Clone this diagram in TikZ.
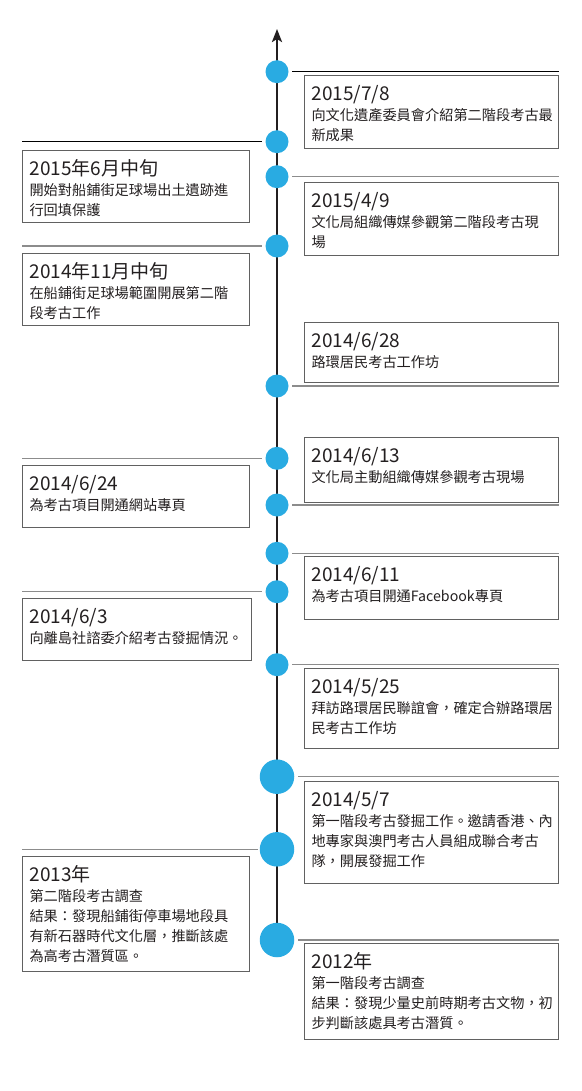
\documentclass[tikz,border=0pt]{standalone}
\usepackage{fontspec}
\setmainfont{Noto Sans CJK TC}
\usepackage{xcolor}
\usepackage{tikz}
\usetikzlibrary{arrows.meta}
\definecolor{dotblue}{HTML}{29ABE2}
\definecolor{axisdark}{HTML}{231F20}
\newcommand{\datesize}{\fontsize{19}{20}\selectfont}
\tikzset{
  eventbox/.style={draw=black!62,line width=1pt,anchor=north west,align=left,
    inner xsep=7pt,inner ysep=0pt,text height=25pt,text=axisdark,
    font=\fontsize{14.2}{20}\selectfont},
  rightbox/.style={eventbox,text width=240pt},
  leftbox/.style={eventbox,text width=213pt},
  smalldot/.style={circle,fill=dotblue,inner sep=0pt,minimum size=23pt},
  bigdot/.style={circle,fill=dotblue,inner sep=0pt,minimum size=34.5pt}
}

\begin{document}
\begin{tikzpicture}[x=1pt,y=-1pt]
  \tikzset{axisline/.style={-{Stealth[length=13pt,width=10pt,inset=3pt]},line width=2.8pt,draw=axisdark},
    blackline/.style={draw=black,line width=0.9pt},
    grayline/.style={draw=black!45,line width=1.4pt}}
  \useasboundingbox (0,0) rectangle (581,1091);
  \coordinate (axisbot) at (277,940);
  \coordinate (axistop) at (277,29);
  \draw[axisline] (axisbot) -- (axistop);
  % points on the time axis
  \node[smalldot] (jul8p) at (277,71.7) {};
  \node[smalldot] (jun15p) at (277,141.7) {};
  \node[smalldot] (apr9p) at (277,176.7) {};
  \node[smalldot] (nov14p) at (277,246) {};
  \node[smalldot] (jun28p) at (277,386) {};
  \node[smalldot] (jun24p) at (277,458.3) {};
  \node[smalldot] (jun13p) at (277,505) {};
  \node[smalldot] (jun11p) at (277,553.3) {};
  \node[smalldot] (jun3p) at (277,591.7) {};
  \node[smalldot] (may25p) at (277,664.7) {};
  \node[bigdot] (may7p) at (277,776.7) {};
  \node[bigdot] (y2013p) at (277,849.3) {};
  \node[bigdot] (y2012p) at (277,940) {};
  % event boxes
  \node[rightbox,text depth=47.7pt] (jul8) at (304,75) {{\datesize 2015/7/8}\\
    向文化遺產委員會介紹第二階段考古最\\新成果};
  \node[leftbox,text depth=47.3pt] (jun15) at (22,150) {{\datesize 2015年6月中旬}\\
    開始對船鋪街足球場出土遺跡進\\行回填保護};
  \node[rightbox,text depth=48.6pt] (apr9) at (304,181.7) {{\datesize 2015/4/9}\\
    文化局組織傳媒參觀第二階段考古現\\場};
  \node[leftbox,text depth=47.6pt] (nov14) at (22,252.7) {{\datesize 2014年11月中旬}\\
    在船鋪街足球場範圍開展第二階\\段考古工作};
  \node[rightbox,text depth=35.3pt] (jun28) at (304,321.7) {{\datesize 2014/6/28}\\
    路環居民考古工作坊};
  \node[rightbox,text depth=39.4pt] (jun13) at (304,437.3) {{\datesize 2014/6/13}\\
    文化局主動組織傳媒參觀考古現場};
  \node[leftbox,text depth=36.7pt] (jun24) at (22,465) {{\datesize 2014/6/24}\\
    為考古項目開通網站專頁};
  \node[rightbox,text depth=38pt] (jun11) at (304,556) {{\datesize 2014/6/11}\\
    為考古項目開通Facebook專頁};
  \node[leftbox,text width=215pt,text depth=36.7pt] (jun3) at (22,598.3) {{\datesize 2014/6/3}\\
    向離島社諮委介紹考古發掘情況。};
  \node[rightbox,text depth=55pt] (may25) at (304,668.3) {{\datesize 2014/5/25}\\
    拜訪路環居民聯誼會，確定合辦路環居\\民考古工作坊};
  \node[rightbox,text depth=76.4pt] (may7) at (304,781.3) {{\datesize 2014/5/7}\\
    第一階段考古發掘工作。邀請香港、內\\地專家與澳門考古人員組成聯合考古\\隊，開展發掘工作};
  \node[leftbox,text depth=89.7pt] (y2013) at (22,856) {{\datesize 2013年}\\
    第二階段考古調查\\結果：發現船鋪街停車場地段具\\有新石器時代文化層，推斷該處\\為高考古潛質區。};
  \node[rightbox,text depth=71pt] (y2012) at (304,943.3) {{\datesize 2012年}\\
    第一階段考古調查\\結果：發現少量史前時期考古文物，初\\步判斷該處具考古潛質。};
  % leader lines from the axis
  \draw[blackline] ([xshift=3.5pt]jul8p.east) -- (jul8p -| jul8.east);
  \draw[blackline] (jun15p -| jun15.west) -- ([xshift=-3pt]jun15p.west);
  \draw[grayline] ([xshift=3.5pt]apr9p.east) -- (apr9p -| apr9.east);
  \draw[grayline] (nov14p -| nov14.west) -- ([xshift=-3pt]nov14p.west);
  \draw[grayline] ([xshift=3.5pt]jun28p.east) -- (jun28p -| jun28.east);
  \draw[grayline] (jun24p -| jun24.west) -- ([xshift=-3pt]jun24p.west);
  \draw[grayline] ([xshift=3.5pt]jun13p.east) -- (jun13p -| jun13.east);
  \draw[grayline] ([xshift=3.5pt]jun11p.east) -- (jun11p -| jun11.east);
  \draw[grayline] (jun3p -| jun3.west) -- ([xshift=-3pt]jun3p.west);
  \draw[grayline] ([xshift=3.5pt]may25p.east) -- (may25p -| may25.east);
  \draw[grayline] ([xshift=4pt]may7p.east) -- (may7p -| may7.east);
  \draw[grayline] (y2013p -| y2013.west) -- ([xshift=-2pt]y2013p.west);
  \draw[grayline] ([xshift=4pt]y2012p.east) -- (y2012p -| y2012.east);
\end{tikzpicture}
\end{document}
